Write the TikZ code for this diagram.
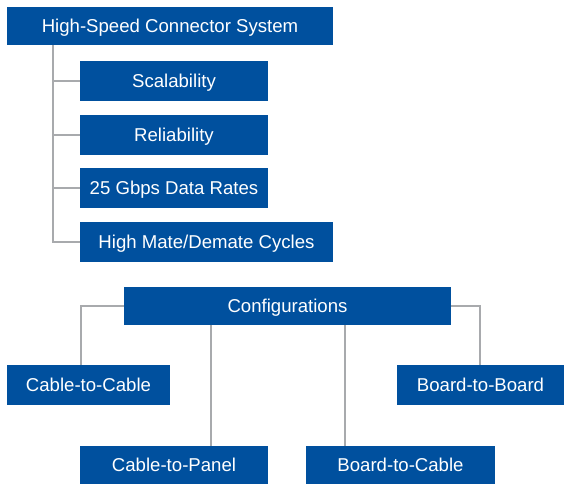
\documentclass[tikz,border=0pt]{standalone}
\usepackage{fontspec}
\setmainfont{Liberation Sans}
\usepackage{tikz}

\definecolor{boxblue}{RGB}{0,80,158}
\definecolor{linegray}{RGB}{168,170,173}

\begin{document}
\begin{tikzpicture}[x=1pt, y=-1pt]
    \tikzstyle{blue box}=[
        fill = boxblue,
        text = white,
        inner sep = 0pt,
        minimum height = 40pt,
        text height = 13.3pt,
        text depth = 0pt,
        font = \fontsize{18.6}{20}\selectfont,
        rectangle
    ]
    \tikzstyle{link}=[
        draw = linegray,
        line width = 1.3pt
    ]

    \useasboundingbox (0,0) rectangle (564,484);

	\node[blue box, minimum width=326pt, minimum height=38pt] (sys)  at (170, 26)    {High-Speed Connector System};
	\node[blue box, minimum width=188pt] (scal) at (174, 81)     {Scalability};
	\node[blue box, minimum width=188pt] (rel)  at (174, 135)    {Reliability};
	\node[blue box, minimum width=188pt] (rate) at (174, 188)    {25 Gbps Data Rates};
	\node[blue box, minimum width=253pt] (cyc)  at (206.5, 242)  {High Mate/Demate Cycles};

	\node[blue box, minimum width=327pt, minimum height=38pt] (conf) at (287.5, 306) {Configurations};
	\node[blue box, minimum width=163pt] (c2c)  at (88.5, 385)   {Cable-to-Cable};
	\node[blue box, minimum width=167pt] (b2b)  at (480.5, 385)  {Board-to-Board};
	\node[blue box, minimum width=188pt, minimum height=38pt] (c2p)  at (174, 465)    {Cable-to-Panel};
	\node[blue box, minimum width=189pt, minimum height=38pt] (b2c)  at (400.5, 465)  {Board-to-Cable};

    \coordinate (trunk) at (53, 0);
    \coordinate (dropL) at (81, 0);
    \coordinate (dropA) at (211, 0);
    \coordinate (dropB) at (345, 0);
    \coordinate (dropR) at (480, 0);

	\path[link] (sys.south -| trunk) |- (scal.west);
	\path[link] (sys.south -| trunk) |- (rel.west);
	\path[link] (sys.south -| trunk) |- (rate.west);
	\path[link] (sys.south -| trunk) |- (cyc.west);

	\path[link] (conf.west) -| (c2c.north -| dropL);
	\path[link] (conf.east) -| (b2b.north -| dropR);
	\path[link] (conf.south -| dropA) -- (c2p.north -| dropA);
	\path[link] (conf.south -| dropB) -- (b2c.north -| dropB);

\end{tikzpicture}
\end{document}
